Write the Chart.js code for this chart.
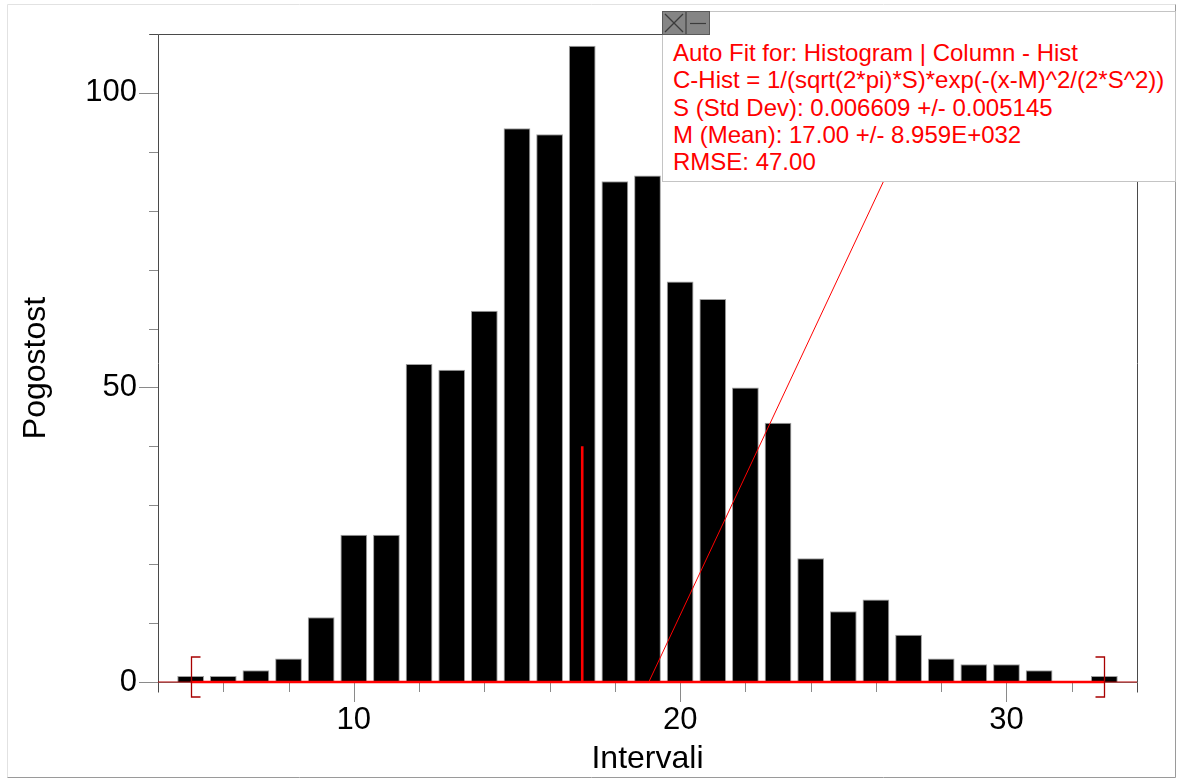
<!DOCTYPE html>
<html>
<head>
<meta charset="utf-8">
<script src="https://cdn.jsdelivr.net/npm/chart.js@4.4.0/dist/chart.umd.min.js"></script>
<style>
html,body{margin:0;padding:0;background:#fff;overflow:hidden}
#wrap{position:relative;width:1177px;height:778px}
#c{position:absolute;left:0;top:0}
#fitbox{position:absolute;left:662px;top:11px;width:512px;height:169px;border:1px solid #c4c4c4;background:#fff;
  font-family:"Liberation Sans",Arial,sans-serif;font-size:24px;color:#ff0000;line-height:27.3px;white-space:nowrap}
#fitbox .txt{position:absolute;left:10px;top:27px}
.btn{position:absolute;top:-1px;width:22px;height:22px;background:#858585;border:1px solid #5a5a5a}
.btn svg{display:block}
</style>
</head>
<body>
<div id="wrap">
  <canvas id="c" width="1177" height="778"></canvas>
  <div id="fitbox">
    <div class="btn" style="left:-1px"><svg width="22" height="22"><line x1="2" y1="2" x2="20" y2="20" stroke="#3c3c3c" stroke-width="1.2"/><line x1="20" y1="2" x2="2" y2="20" stroke="#3c3c3c" stroke-width="1.2"/></svg></div>
    <div class="btn" style="left:23px"><svg width="22" height="22"><line x1="3" y1="11.5" x2="19" y2="11.5" stroke="#3c3c3c" stroke-width="1.2"/></svg></div>
    <div class="txt" id="fittxt"></div>
  </div>
</div>
<script>
// ---- data ----
const intervals = [5,6,7,8,9,10,11,12,13,14,15,16,17,18,19,20,21,22,23,24,25,26,27,28,29,30,31,32,33];
const counts    = [1,1,2,4,11,25,25,54,53,63,94,93,108,85,86,68,65,50,44,21,12,14,8,4,3,3,2,0,1];
const xTickLabels = [10, 20, 30];
const yTickLabels = [0, 50, 100];
const fitCurveX = [5, 17, 17, 17, 33];
const fitCurveY = [0, 0, 40, 0, 0];
const curveTailX = [4, 34];
const curveTailY = [0, 0];
const leaderX = [19.04, 28.35];
const leaderY = [0, 110];
const fitRange = [5, 33];
const fitText = [
  "Auto Fit for: Histogram | Column - Hist",
  "C-Hist = 1/(sqrt(2*pi)*S)*exp(-(x-M)^2/(2*S^2))",
  "S (Std Dev): 0.006609 +/- 0.005145",
  "M (Mean): 17.00 +/- 8.959E+032",
  "RMSE: 47.00"
];
const xTitle = "Intervali";
const yTitle = "Pogostost";

document.getElementById('fittxt').innerHTML = fitText.map(t => '<div>' + t + '</div>').join('');

const FONT = '"Liberation Sans", Arial, sans-serif';
const pts = (xs, ys) => xs.map((x, i) => ({x: x, y: ys[i]}));

const framePlugin = {
  id: 'frame',
  beforeDraw(chart) {
    const ctx = chart.ctx;
    ctx.save();
    ctx.lineWidth = 1;
    ctx.strokeStyle = '#e2e2e2';
    ctx.beginPath();
    ctx.moveTo(7.5, 777.5); ctx.lineTo(7.5, 4.5); ctx.lineTo(1175.5, 4.5);
    ctx.stroke();
    ctx.strokeStyle = '#9a9a9a';
    ctx.beginPath();
    ctx.moveTo(7.5, 777.5); ctx.lineTo(1175.5, 777.5); ctx.lineTo(1175.5, 4.5);
    ctx.stroke();
    ctx.restore();
  },
  beforeDatasetsDraw(chart) {
    const ctx = chart.ctx, xs = chart.scales.x, ys = chart.scales.y;
    const a = chart.chartArea;
    ctx.save();
    ctx.lineWidth = 1;
    ctx.strokeStyle = '#8a8a8a';
    ctx.beginPath();
    for (let v = 4; v <= 34; v += 2) {
      const px = Math.round(xs.getPixelForValue(v)) + 0.5;
      const len = xTickLabels.includes(v) ? 20 : 10;
      ctx.moveTo(px, a.bottom); ctx.lineTo(px, a.bottom + len);
    }
    for (let v = 0; v <= 110; v += 10) {
      const py = Math.round(ys.getPixelForValue(v)) + 0.5;
      const len = yTickLabels.includes(v) ? 19 : 9;
      ctx.moveTo(a.left, py); ctx.lineTo(a.left - len, py);
    }
    ctx.stroke();
    ctx.strokeStyle = '#4a4a4a';
    ctx.beginPath();
    const L = Math.round(a.left) + 0.5, R = Math.round(a.right) + 0.5;
    const T = Math.round(a.top) + 0.5, B = Math.round(ys.getPixelForValue(0)) + 0.5;
    ctx.moveTo(L, B + 10); ctx.lineTo(L, T); ctx.lineTo(R, T); ctx.lineTo(R, B + 10);
    ctx.moveTo(L - 9, T); ctx.lineTo(L, T);
    ctx.stroke();
    ctx.strokeStyle = '#8a8a8a';
    ctx.beginPath();
    ctx.moveTo(L, B); ctx.lineTo(R, B);
    ctx.stroke();
    ctx.restore();
  },
  afterDatasetsDraw(chart) {
    const ctx = chart.ctx, xs = chart.scales.x, ys = chart.scales.y;
    const y0 = ys.getPixelForValue(0);
    ctx.save();
    ctx.strokeStyle = '#a80000';
    ctx.lineWidth = 1.3;
    fitRange.forEach((v, i) => {
      const px = Math.round(xs.getPixelForValue(v)) + 0.5;
      const arm = i === 0 ? 9 : -9;
      ctx.beginPath();
      ctx.moveTo(px + arm, y0 - 25); ctx.lineTo(px, y0 - 25);
      ctx.lineTo(px, y0 + 15); ctx.lineTo(px + arm, y0 + 15);
      ctx.stroke();
    });
    ctx.restore();
  },
  afterDraw(chart) {
    const ctx = chart.ctx;
    ctx.save();
    ctx.translate(36, 368);
    ctx.rotate(-Math.PI / 2);
    ctx.font = '32px ' + FONT;
    ctx.fillStyle = '#000';
    ctx.textAlign = 'center';
    ctx.textBaseline = 'middle';
    ctx.fillText(yTitle, 0, 0);
    ctx.restore();
  }
};

new Chart(document.getElementById('c'), {
  type: 'bar',
  data: {
    datasets: [
      { type: 'line', data: pts(leaderX, leaderY), borderColor: '#ff0000', borderWidth: 1, pointRadius: 0, clip: false, order: 0 },
      { type: 'line', data: pts(fitCurveX, fitCurveY), borderColor: '#ff0000', borderWidth: 2.6, pointRadius: 0, borderJoinStyle: 'bevel', clip: false, order: 1 },
      { type: 'line', data: pts(curveTailX, curveTailY), borderColor: '#b00000', borderWidth: 1, pointRadius: 0, clip: false, order: 2 },
      { type: 'bar', data: pts(intervals, counts), backgroundColor: '#000', borderColor: '#a0a0a0', borderWidth: 1,
        barPercentage: 0.82, categoryPercentage: 1.0, order: 3 }
    ]
  },
  options: {
    responsive: false,
    animation: false,
    events: [],
    layout: { padding: { left: 0, top: 34, right: 40, bottom: 0 } },
    plugins: { legend: { display: false }, tooltip: { enabled: false } },
    scales: {
      x: {
        type: 'linear', min: 4, max: 34, offset: false,
        grid: { display: false, drawTicks: false, offset: false },
        border: { display: false },
        ticks: { stepSize: 2, autoSkip: false, maxRotation: 0, padding: 20, color: '#000',
                 font: { size: 31, family: FONT },
                 callback: v => xTickLabels.includes(v) ? String(v) : '' },
        title: { display: true, text: xTitle, color: '#000', font: { size: 32, family: FONT, lineHeight: 1 },
                 padding: { top: 0, bottom: 3 } },
        afterFit: s => { s.height = 96; s.paddingLeft = 0; s.paddingRight = 0; }
      },
      y: {
        min: 0, max: 110,
        grid: { display: false, drawTicks: false },
        border: { display: false },
        ticks: { stepSize: 10, autoSkip: false, padding: 21, color: '#000',
                 font: { size: 31, family: FONT },
                 callback: v => yTickLabels.includes(v) ? String(v) : '' },
        afterFit: s => { s.width = 158; s.paddingTop = 0; s.paddingBottom = 0; }
      }
    }
  },
  plugins: [framePlugin]
});
</script>
</body>
</html>
